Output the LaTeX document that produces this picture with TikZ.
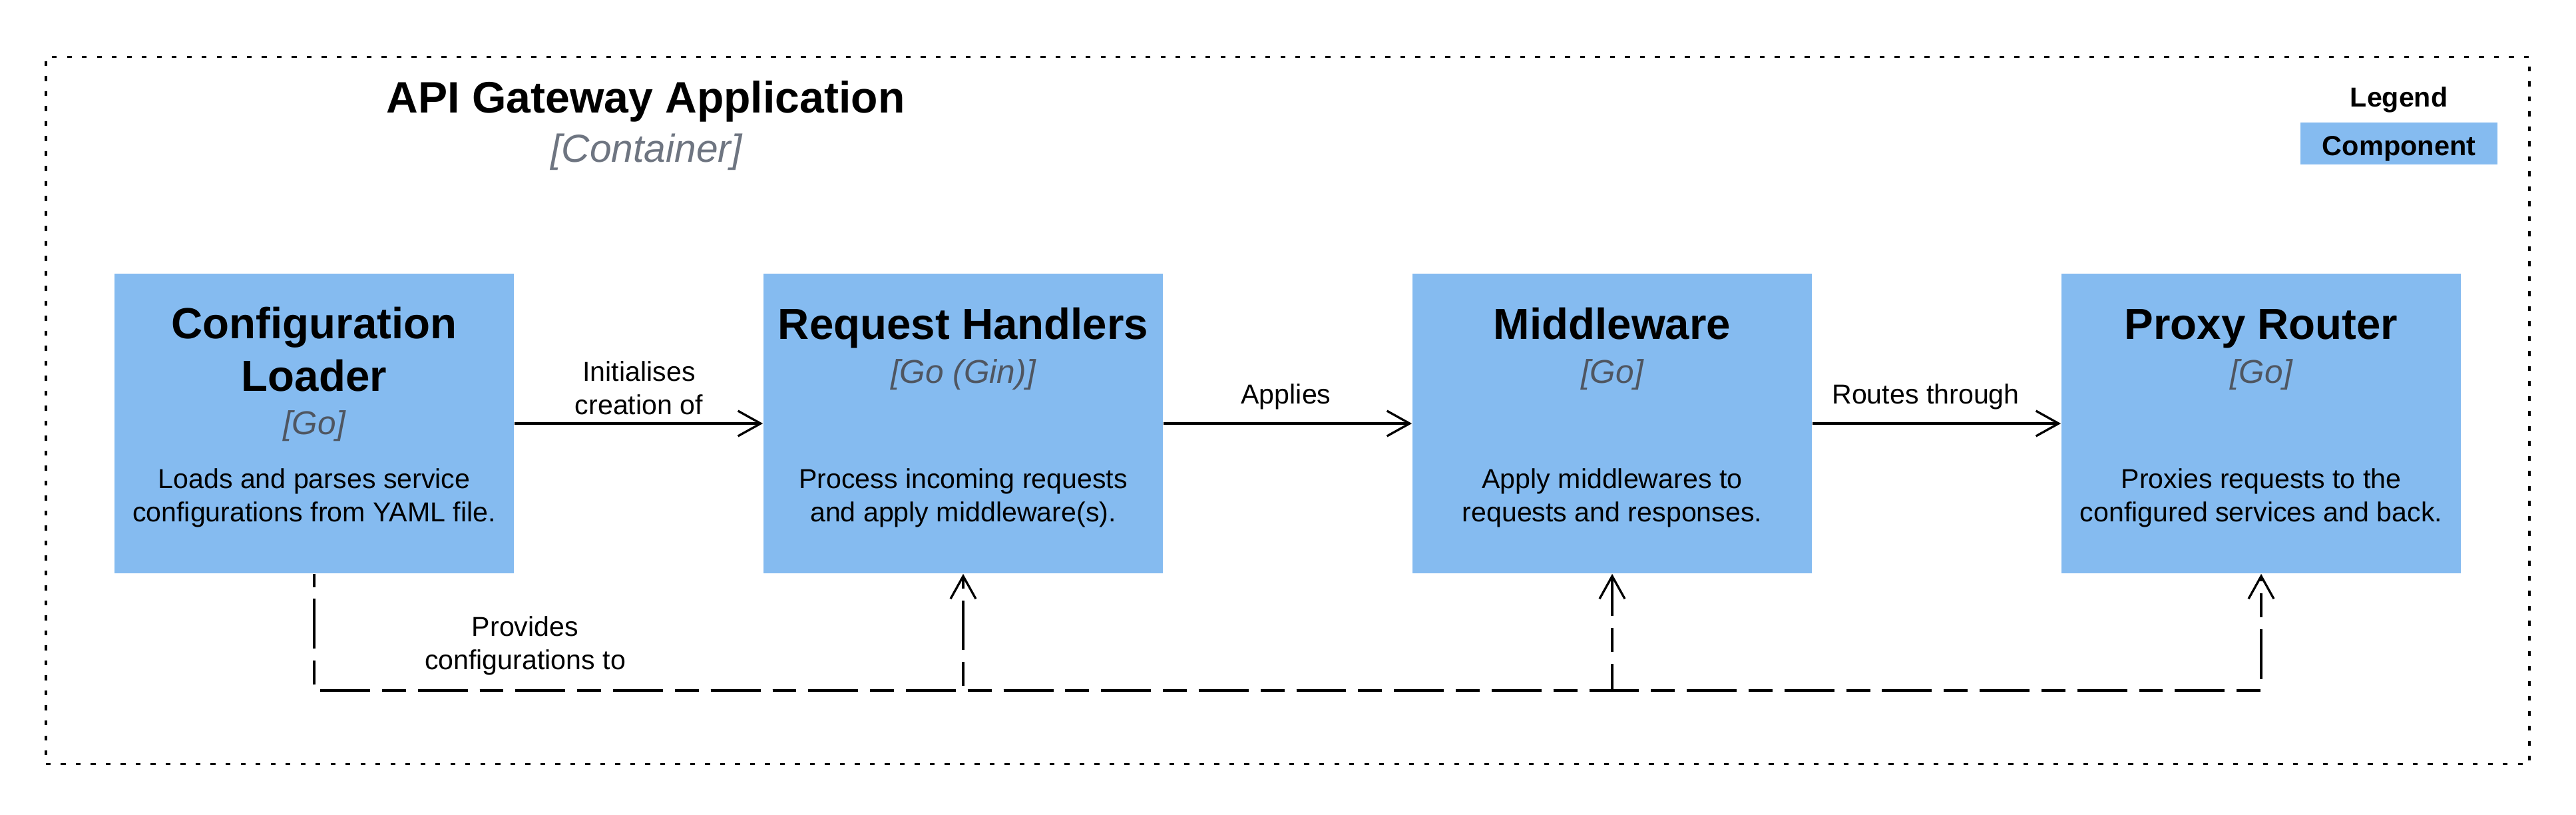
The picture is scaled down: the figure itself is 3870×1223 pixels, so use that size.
\documentclass[tikz,border=0pt]{standalone}
\usepackage{fontspec}
\setmainfont{Liberation Sans}
\usetikzlibrary{arrows.meta}
\definecolor{compfill}{HTML}{85BBF0}
\definecolor{techgray}{HTML}{4F5661}
\definecolor{contgray}{HTML}{6E7581}
\begin{document}
\begin{tikzpicture}[x=0.01cm,y=-0.01cm,
  comp/.style={fill=compfill, draw=none, minimum width=6cm, minimum height=4.5cm, inner sep=0pt},
  ttl/.style={font=\fontsize{18.6}{22.2}\selectfont\bfseries, align=center, anchor=base, inner sep=0pt},
  tech/.style={font=\fontsize{14.1}{17}\selectfont\itshape, text=techgray, anchor=base, inner sep=0pt},
  desc/.style={font=\fontsize{11.7}{14.2}\selectfont, align=center, anchor=base, inner sep=0pt},
  lbl/.style={font=\fontsize{11.7}{14.2}\selectfont, align=center, anchor=base, inner sep=0pt},
  arr/.style={line width=0.94pt, -{Straight Barb[length=9.7pt,width=10.8pt]}},
  dep/.style={arr, dash pattern=on 21.3pt off 5.1pt on 10.2pt off 5.1pt, dash phase=31pt},
  boundary/.style={draw, line width=1pt, dash pattern=on 2.1pt off 4.3pt, minimum width=37.29cm, minimum height=10.61cm, inner sep=0pt},
]
\useasboundingbox[fill=white] (0,0) rectangle (3870,1223);

% boundary
\node[boundary] (gw) at (1934.5,616.5) {};
\node[font=\fontsize{18.8}{22.5}\selectfont\bfseries, anchor=base, inner sep=0pt] (gwtitle) at (970,169) {API Gateway Application};
\node[font=\fontsize{16.7}{20}\selectfont\itshape, text=contgray, anchor=base, inner sep=0pt] (gwtype) at (971,243) {[Container]};

% legend
\node[font=\fontsize{11.7}{14}\selectfont\bfseries, anchor=base, inner sep=0pt] (legtitle) at (3604,160) {Legend};
\node[fill=compfill, minimum width=2.96cm, minimum height=0.63cm, inner sep=0pt] (legbox) at (3604,215.5) {};
\node[font=\fontsize{11.8}{14}\selectfont\bfseries, anchor=base, inner sep=0pt] (legcomp) at (3604,233) {Component};

% components
\node[comp] (b1) at (472,636) {};
\node[comp] (b2) at (1447,636) {};
\node[comp] (b3) at (2422,636) {};
\node[comp] (b4) at (3397,636) {};

\node[ttl] (b1t) at (472,587) {Configuration\\Loader};
\node[tech] (b1k) at (472,652) {[Go]};
\node[desc] (b1d) at (472,783) {Loads and parses service\\configurations from YAML file.};

\node[ttl] (b2t) at (1447,509) {Request Handlers};
\node[tech] (b2k) at (1447,575) {[Go (Gin)]};
\node[desc] (b2d) at (1447,783) {Process incoming requests\\and apply middleware(s).};

\node[ttl] (b3t) at (2422,509) {Middleware};
\node[tech] (b3k) at (2422,575) {[Go]};
\node[desc] (b3d) at (2422,783) {Apply middlewares to\\requests and responses.};

\node[ttl] (b4t) at (3397,509) {Proxy Router};
\node[tech] (b4k) at (3397,575) {[Go]};
\node[desc] (b4d) at (3397,783) {Proxies requests to the\\configured services and back.};

% solid relations
\draw[arr] (b1) -- (b2);
\draw[arr] (b2) -- (b3);
\draw[arr] (b3) -- (b4);
\node[lbl] (l12) at (960,622) {Initialises\\creation of};
\node[lbl] (l23) at (1932,606) {Applies};
\node[lbl] (l34) at (2893,606) {Routes through};

% dashed relations
\coordinate (bus) at (472,1037);
\draw[dep] (b1.south) -- (bus) -| (b4.south);
\draw[dep] (b1.south) -- (bus) -| (b3.south);
\draw[dep] (b1.south) -- (bus) -| (b2.south);
\node[lbl] (lcfg) at (789,1005) {Provides\\configurations to};
\end{tikzpicture}
\end{document}
